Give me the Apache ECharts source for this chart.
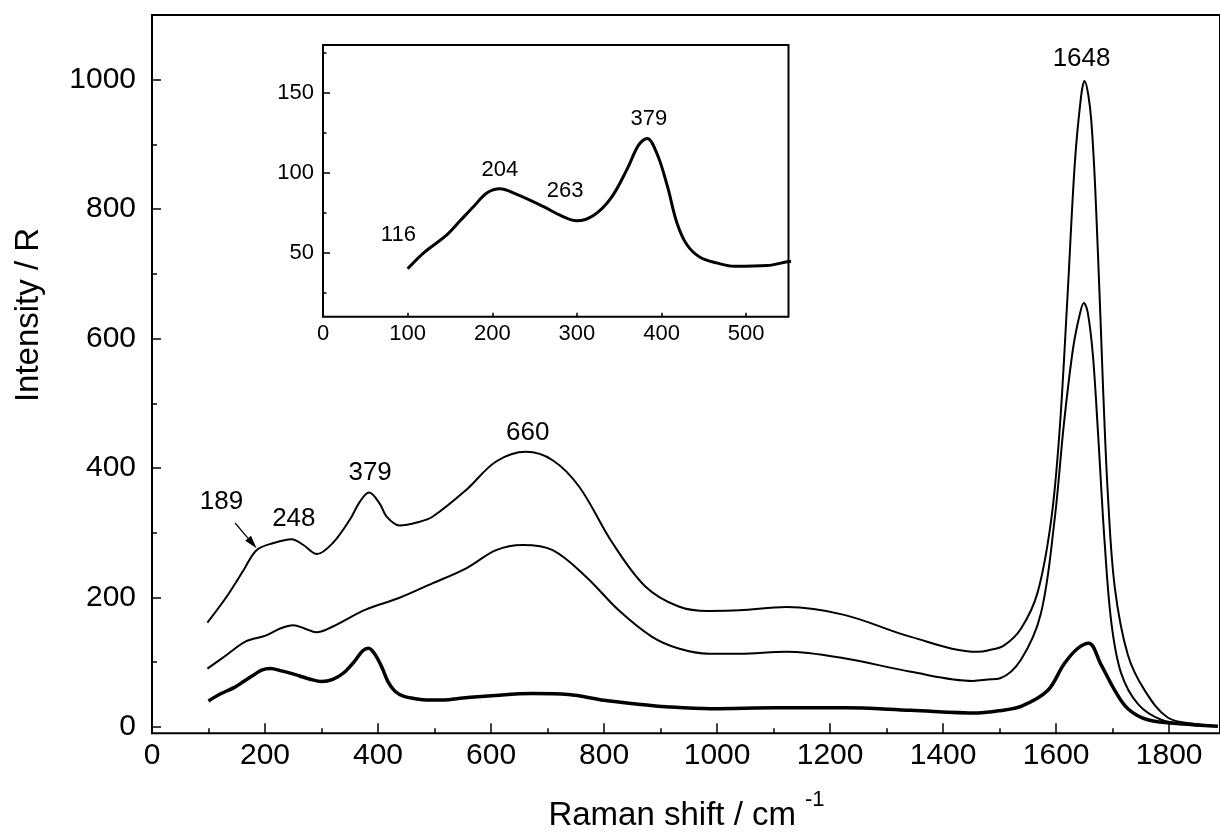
<!DOCTYPE html>
<html>
<head>
<meta charset="utf-8">
<script src="https://cdn.jsdelivr.net/npm/echarts@6/dist/echarts.min.js"></script>
<style>
  html, body { margin: 0; padding: 0; background: #fff; }
  #chart { width: 1220px; height: 836px; }
</style>
</head>
<body>
<div id="chart"></div>
<script>
// Raman spectra, three traces. The lowest trace is shown again in the inset.
var shiftTop = [98, 132, 162, 185, 215, 247, 268, 292, 320, 350, 368, 384, 403, 415, 438, 470, 497, 556, 609, 662, 709, 756, 815, 873, 932, 985, 1040, 1123, 1225, 1343, 1461, 1479, 1508, 1538, 1567, 1591, 1606, 1620, 1633, 1644, 1650, 1662, 1674, 1683, 1692, 1704, 1727, 1757, 1798, 1850, 1886];
var intensityTop = [161, 201, 242, 273, 284, 290, 281, 267, 284, 320, 348, 362, 345, 325, 311, 316, 325, 366, 410, 425, 412, 371, 284, 217, 186, 179, 180, 185, 173, 139, 116, 118, 126, 152, 207, 318, 456, 663, 870, 973, 998, 939, 732, 525, 352, 214, 111, 56, 14, 4, 1];

var shiftMid = [98, 132, 166, 201, 227, 250, 270, 291, 320, 378, 437, 497, 556, 609, 656, 709, 768, 826, 885, 932, 985, 1040, 1123, 1225, 1343, 1453, 1479, 1501, 1538, 1573, 1597, 1614, 1630, 1642, 1649, 1656, 1665, 1674, 1686, 1698, 1715, 1745, 1786, 1840, 1886];
var intensityMid = [90, 111, 132, 141, 152, 157, 152, 146, 155, 181, 199, 222, 245, 273, 281, 273, 232, 180, 139, 121, 113, 113, 116, 106, 85, 71, 73, 75, 104, 175, 318, 470, 585, 638, 655, 640, 575, 456, 283, 159, 83, 35, 11, 3, 1];

var shiftLow = [100, 119, 146, 162, 178, 194, 209, 229, 260, 280, 300, 320, 340, 359, 373, 383, 395, 407, 418, 430, 446, 466, 486, 525, 550, 600, 673, 737, 800, 860, 910, 989, 1107, 1225, 1343, 1461, 1500, 1539, 1585, 1614, 1638, 1658, 1679, 1704, 1727, 1762, 1833, 1886];
var intensityLow = [40, 50, 61, 70, 79, 87.5, 90, 86.5, 79, 73.5, 70, 73.5, 84, 102, 117.5, 121.5, 111.5, 91.5, 69, 55, 47, 43.5, 41.5, 42, 44.5, 48, 51.5, 50, 41, 35, 31, 28, 29.5, 29.5, 25.5, 21.5, 25, 32, 56, 97, 121, 129, 97, 56, 28, 11, 4, 1];

var mainXTicks = [0, 200, 400, 600, 800, 1000, 1200, 1400, 1600, 1800];
var mainXMinor = [100, 300, 500, 700, 900, 1100, 1300, 1500, 1700];
var mainYTicks = [0, 200, 400, 600, 800, 1000];
var mainYMinor = [100, 300, 500, 700, 900];
var insetXTicks = [0, 100, 200, 300, 400, 500];
var insetYTicks = [50, 100, 150];
var insetYMinor = [25, 75, 125, 175];

// peak labels: [text, x, y] in data units
var mainPeaks = [['189', 123, 347], ['248', 251, 321], ['379', 386, 392], ['660', 665, 454], ['1648', 1645, 1032]];
var insetPeaks = [['116', 89, 61], ['204', 209, 102], ['263', 286, 88.7], ['379', 385, 133.5]];

var FONT = "'Liberation Sans', Arial, sans-serif";

function pairs(xs, ys) {
  return xs.map(function (x, i) { return [x, ys[i]]; });
}

function tickAxis(grid, min, max, pos, values, len) {
  return {
    type: 'value', gridIndex: grid, min: min, max: max, position: pos,
    axisLine: { show: false, onZero: false },
    axisLabel: { show: false },
    splitLine: { show: false },
    axisTick: { show: true, inside: true, length: len, customValues: values,
      lineStyle: { color: '#000', width: 1.5 } }
  };
}

function labelAxis(grid, min, max, pos, values, len, size, margin) {
  var a = tickAxis(grid, min, max, pos, values, len);
  a.axisLabel = { show: true, customValues: values, color: '#000',
    fontFamily: FONT, fontSize: size, margin: margin,
    formatter: function (v) { return String(v); } };
  return a;
}

var chart = echarts.init(document.getElementById('chart'));

var lineBase = { type: 'line', showSymbol: false, smooth: 0.35,
  animation: false, silent: true };

var option = {
  backgroundColor: '#fff',
  animation: false,
  grid: [
    { left: 152, top: 15, width: 1071, height: 718.3, show: true,
      borderColor: '#000', borderWidth: 2, backgroundColor: 'transparent' },
    { left: 323, top: 45, width: 465.5, height: 271.7, show: true,
      borderColor: '#000', borderWidth: 2, backgroundColor: '#fff' }
  ],
  xAxis: [
    labelAxis(0, 0, 1890, 'bottom', mainXTicks, 10, 30, 7),
    tickAxis(0, 0, 1890, 'bottom', mainXMinor, 5),
    labelAxis(1, 0, 550, 'bottom', insetXTicks, 4, 22, 6)
  ],
  yAxis: [
    labelAxis(0, -10, 1100, 'left', mainYTicks, 9, 30, 16),
    tickAxis(0, -10, 1100, 'left', mainYMinor, 5),
    labelAxis(1, 10, 180, 'left', insetYTicks, 7, 22, 9),
    tickAxis(1, 10, 180, 'left', insetYMinor, 3.5)
  ],
  series: [
    Object.assign({}, lineBase, { name: 'top', xAxisIndex: 0, yAxisIndex: 0,
      data: pairs(shiftTop, intensityTop), lineStyle: { color: '#000', width: 2 } }),
    Object.assign({}, lineBase, { name: 'middle', xAxisIndex: 0, yAxisIndex: 0,
      data: pairs(shiftMid, intensityMid), lineStyle: { color: '#000', width: 2 } }),
    Object.assign({}, lineBase, { name: 'low', xAxisIndex: 0, yAxisIndex: 0,
      data: pairs(shiftLow, intensityLow), lineStyle: { color: '#000', width: 3.5 } }),
    Object.assign({}, lineBase, { name: 'inset', xAxisIndex: 2, yAxisIndex: 2,
      data: pairs(shiftLow, intensityLow), lineStyle: { color: '#000', width: 3 } })
  ]
};
chart.setOption(option);

// annotations placed from data coordinates
var g = [];
mainPeaks.forEach(function (p) {
  var pt = chart.convertToPixel({ xAxisIndex: 0, yAxisIndex: 0 }, [p[1], p[2]]);
  g.push({ type: 'text', x: pt[0], y: pt[1], style: { text: p[0], fill: '#000',
    font: '26px ' + FONT, textAlign: 'center', textVerticalAlign: 'middle' } });
});
insetPeaks.forEach(function (p) {
  var pt = chart.convertToPixel({ xAxisIndex: 2, yAxisIndex: 2 }, [p[1], p[2]]);
  g.push({ type: 'text', x: pt[0], y: pt[1], style: { text: p[0], fill: '#000',
    font: '22px ' + FONT, textAlign: 'center', textVerticalAlign: 'middle' } });
});

// arrow pointing at the 189 shoulder
var a0 = chart.convertToPixel({ xAxisIndex: 0, yAxisIndex: 0 }, [147, 315]);
var a1 = chart.convertToPixel({ xAxisIndex: 0, yAxisIndex: 0 }, [185, 276]);
var dx = a1[0] - a0[0], dy = a1[1] - a0[1], L = Math.sqrt(dx * dx + dy * dy);
var ux = dx / L, uy = dy / L, hl = 13, hw = 3.8;
var bx = a1[0] - ux * hl, by = a1[1] - uy * hl;
g.push({ type: 'line', shape: { x1: a0[0], y1: a0[1], x2: bx, y2: by },
  style: { stroke: '#000', lineWidth: 1.2 } });
g.push({ type: 'polygon', shape: { points: [[a1[0], a1[1]],
  [bx - uy * hw, by + ux * hw], [bx + uy * hw, by - ux * hw]] },
  style: { fill: '#000' } });

// axis titles
g.push({ type: 'text', x: 29, y: 315, rotation: Math.PI / 2,
  style: { text: 'Intensity / R', fill: '#000', font: '33px ' + FONT,
    textAlign: 'center', textVerticalAlign: 'middle' } });
g.push({ type: 'text', x: 796, y: 816,
  style: { text: 'Raman shift / cm', fill: '#000', font: '33px ' + FONT,
    textAlign: 'right', textVerticalAlign: 'middle' } });
g.push({ type: 'text', x: 805, y: 800,
  style: { text: '-1', fill: '#000', font: '22px ' + FONT,
    textAlign: 'left', textVerticalAlign: 'middle' } });

chart.setOption({ graphic: g });
</script>
</body>
</html>
